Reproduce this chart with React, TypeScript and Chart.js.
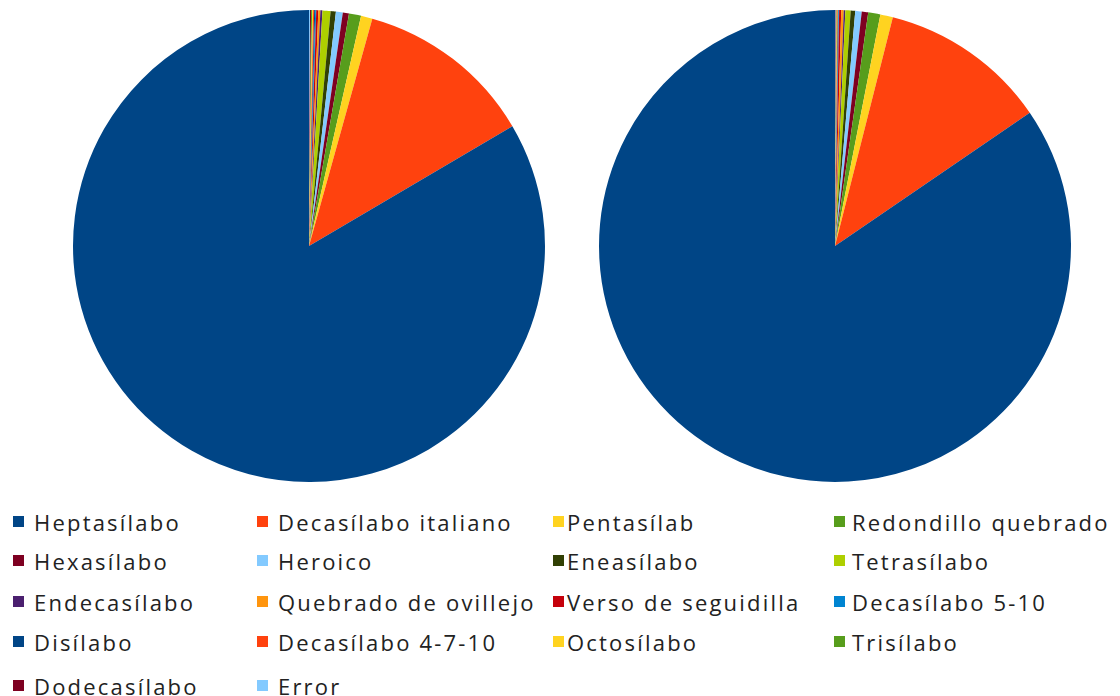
import React, { useEffect, useRef } from "react";
import { Chart, registerables } from "chart.js";

Chart.register(...registerables);

// ---- data (legend order) ----
const categories = [
  "Heptasílabo",
  "Decasílabo italiano",
  "Pentasílab",
  "Redondillo quebrado",
  "Hexasílabo",
  "Heroico",
  "Eneasílabo",
  "Tetrasílabo",
  "Endecasílabo",
  "Quebrado de ovillejo",
  "Verso de seguidilla",
  "Decasílabo 5-10",
  "Disílabo",
  "Decasílabo 4-7-10",
  "Octosílabo",
  "Trisílabo",
  "Dodecasílabo",
  "Error",
];

// percentages, left pie
const seriesLeft = [
  83.4, 12.2, 0.78, 0.83, 0.42, 0.47, 0.36, 0.55, 0.14, 0.14, 0.14, 0.07, 0.07,
  0.07, 0.07, 0.07, 0.07, 0.07,
];

// percentages, right pie
const seriesRight = [
  84.5, 11.5, 0.86, 0.83, 0.44, 0.44, 0.31, 0.36, 0.11, 0.17, 0.14, 0.04, 0.04,
  0.04, 0.04, 0.04, 0.04, 0.04,
];

const colors = [
  "#004586",
  "#ff420e",
  "#ffd320",
  "#579d1c",
  "#7e0021",
  "#83caff",
  "#314004",
  "#aecf00",
  "#4b1f6f",
  "#ff950e",
  "#c5000b",
  "#0084d1",
  "#004586",
  "#ff420e",
  "#ffd320",
  "#579d1c",
  "#7e0021",
  "#83caff",
];

// ---- layout ----
const CANVAS = 480;
const RADIUS = 236;
const PIE_CENTERS = [
  [309, 246],
  [835, 246],
];
const COL_MARKER_X = [13, 257, 553, 834];
const COL_TEXT_X = [34, 278, 567, 852];
const ROW_CENTER_Y = [522, 561, 602, 642, 686];

function PieCanvas({ values, cx, cy }: { values: number[]; cx: number; cy: number }) {
  const ref = useRef<HTMLCanvasElement | null>(null);
  useEffect(() => {
    if (!ref.current) return;
    // LibreOffice draws counter-clockwise from 12 o'clock: reverse for Chart.js clockwise
    const labels = [...categories].reverse();
    const data = [...values].reverse();
    const bg = [...colors].reverse();
    const chart = new Chart(ref.current, {
      type: "pie",
      data: {
        labels,
        datasets: [
          {
            data,
            backgroundColor: bg,
            borderWidth: 0,
            radius: RADIUS,
            hoverOffset: 0,
          },
        ],
      },
      options: {
        responsive: false,
        animation: false,
        events: [],
        layout: { padding: 0 },
        plugins: {
          legend: { display: false },
          tooltip: { enabled: false },
        },
      },
    });
    return () => chart.destroy();
  }, [values]);
  return (
    <canvas
      ref={ref}
      width={CANVAS}
      height={CANVAS}
      style={{
        position: "absolute",
        left: cx - CANVAS / 2,
        top: cy - CANVAS / 2,
        width: CANVAS,
        height: CANVAS,
      }}
    />
  );
}

export default function App() {
  const series = [seriesLeft, seriesRight];
  return (
    <div
      style={{
        position: "absolute",
        left: 0,
        top: 0,
        width: 1120,
        height: 696,
        background: "#ffffff",
        overflow: "hidden",
        fontFamily: "'Open Sans', 'DejaVu Sans', sans-serif",
      }}
    >
      {series.map((s, i) => (
        <PieCanvas key={i} values={s} cx={PIE_CENTERS[i][0]} cy={PIE_CENTERS[i][1]} />
      ))}
      {categories.map((name, i) => {
        const col = i % 4;
        const row = Math.floor(i / 4);
        const y = ROW_CENTER_Y[row];
        return (
          <React.Fragment key={name}>
            <div
              style={{
                position: "absolute",
                left: COL_MARKER_X[col],
                top: y - 6,
                width: 11,
                height: 11,
                background: colors[i],
              }}
            />
            <div
              style={{
                position: "absolute",
                left: COL_TEXT_X[col],
                top: y - 15,
                height: 30,
                lineHeight: "30px",
                fontSize: 22,
                letterSpacing: "2.2px",
                color: "#222222",
                whiteSpace: "nowrap",
              }}
            >
              {name}
            </div>
          </React.Fragment>
        );
      })}
    </div>
  );
}
